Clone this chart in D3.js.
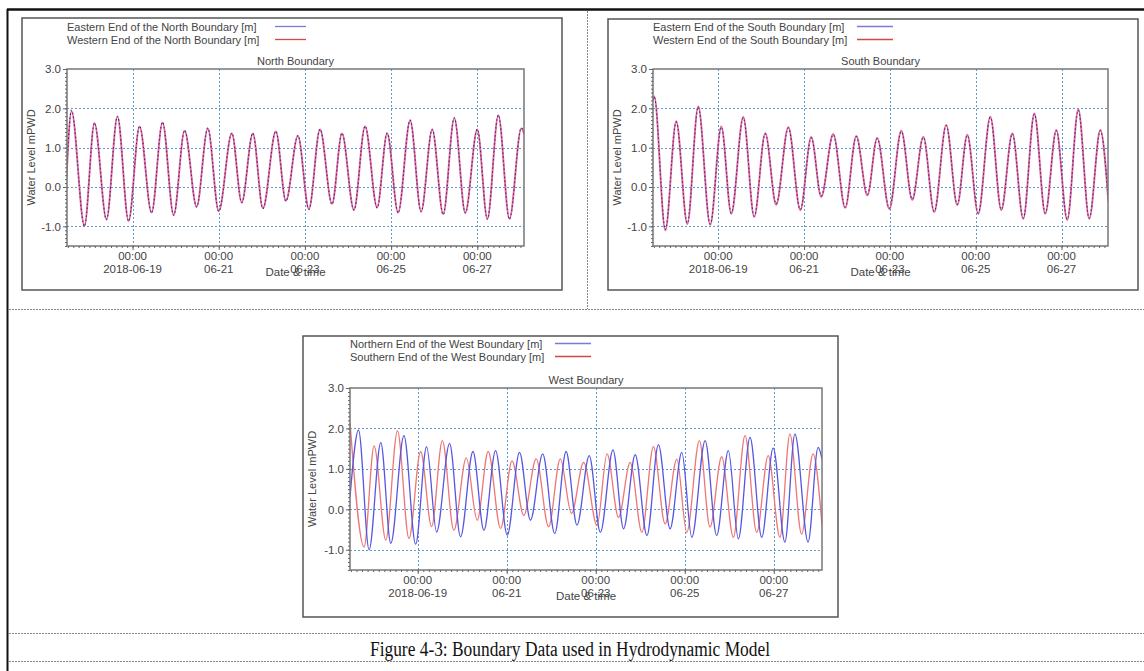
<!DOCTYPE html>
<html>
<head>
<meta charset="utf-8">
<script src="https://cdn.jsdelivr.net/npm/d3@7"></script>
<style>
  body { margin: 0; background: #fff; }
  text { font-family: "Liberation Sans", Arial, sans-serif; fill: #444; }
</style>
</head>
<body>
<script>
// hours after 2018-06-17 00:00 at each high / low water
const northHours = [11.2, 14.0, 21.2, 26.8, 33.5, 39.6, 45.8, 51.9, 58.6, 64.7, 70.9, 77.0, 83.7, 89.9, 96.0,
    103.3, 108.8, 115.0, 120.6, 127.8, 133.4, 140.1, 146.2, 152.4, 159.1, 164.6, 171.3, 177.5, 184.2, 189.8,
    195.9, 202.6, 208.7, 214.9, 221.0, 227.2, 233.3, 240.0, 245.6, 251.7, 257.9, 264.5, 266.2];
const northEast = [0.2, 1.95, -1.0, 1.63, -0.83, 1.8, -0.87, 1.55, -0.66, 1.65, -0.72, 1.44, -0.51, 1.5, -0.62,
    1.37, -0.4, 1.37, -0.55, 1.42, -0.36, 1.31, -0.57, 1.47, -0.44, 1.37, -0.59, 1.55, -0.53, 1.37,
    -0.66, 1.7, -0.63, 1.47, -0.7, 1.76, -0.66, 1.47, -0.82, 1.83, -0.82, 1.5, 1.35];
const northWest = [0.2, 1.93, -0.98, 1.62, -0.82, 1.79, -0.86, 1.54, -0.65, 1.64, -0.71, 1.43, -0.5, 1.49, -0.61,
    1.36, -0.39, 1.36, -0.54, 1.41, -0.35, 1.3, -0.56, 1.46, -0.43, 1.36, -0.58, 1.54, -0.52, 1.36,
    -0.65, 1.69, -0.62, 1.46, -0.69, 1.75, -0.65, 1.46, -0.81, 1.82, -0.81, 1.49, 1.34];

const southHours = [11.5, 12.2, 18.4, 24.5, 30.7, 36.8, 43.5, 49.7, 55.3, 62.0, 68.1, 74.3, 80.4, 87.2, 93.9,
    100.0, 105.6, 112.3, 119.0, 125.2, 131.4, 136.9, 143.7, 150.4, 156.5, 162.7, 168.8, 175.5, 181.7, 187.3,
    193.4, 200.2, 206.3, 212.5, 218.6, 224.8, 230.9, 237.1, 243.2, 249.4, 255.5, 261.7, 266.2];
const southEast = [2.2, 2.28, -1.08, 1.65, -0.92, 2.03, -0.94, 1.52, -0.66, 1.76, -0.74, 1.35, -0.43, 1.5, -0.57,
    1.25, -0.23, 1.33, -0.51, 1.28, -0.19, 1.23, -0.54, 1.41, -0.31, 1.26, -0.62, 1.56, -0.44, 1.31,
    -0.66, 1.77, -0.57, 1.35, -0.79, 1.85, -0.66, 1.43, -0.82, 1.95, -0.79, 1.43, -0.36];
const southWest = [2.22, 2.3, -1.1, 1.67, -0.94, 2.05, -0.96, 1.54, -0.68, 1.78, -0.76, 1.37, -0.45, 1.52, -0.59,
    1.27, -0.25, 1.35, -0.53, 1.3, -0.21, 1.25, -0.56, 1.43, -0.33, 1.28, -0.64, 1.58, -0.46, 1.33,
    -0.68, 1.79, -0.59, 1.37, -0.81, 1.87, -0.68, 1.45, -0.84, 1.97, -0.81, 1.45, -0.38];

const westNorthHours = [11.5, 16.1, 21.8, 28.1, 33.5, 40.6, 46.9, 52.8, 58.2, 65.2, 71.1, 77.8, 83.7, 90.0, 96.3,
    102.9, 108.8, 115.4, 121.9, 128.0, 133.9, 140.5, 146.5, 153.3, 159.0, 165.3, 171.6, 177.8, 184.1, 190.4,
    195.8, 203.0, 209.2, 215.5, 220.9, 227.2, 233.5, 239.7, 246.0, 251.4, 258.5, 263.9, 266.0];
const westNorth = [0.3, 1.96, -1.0, 1.65, -0.84, 1.82, -0.86, 1.55, -0.56, 1.63, -0.68, 1.43, -0.52, 1.45, -0.64,
    1.41, -0.27, 1.37, -0.6, 1.43, -0.39, 1.33, -0.57, 1.47, -0.48, 1.35, -0.65, 1.6, -0.48, 1.41,
    -0.69, 1.7, -0.65, 1.45, -0.73, 1.78, -0.69, 1.52, -0.81, 1.86, -0.81, 1.53, 1.24];
const westSouthHours = [11.5, 19.1, 24.5, 30.8, 37.1, 43.3, 49.6, 55.5, 61.3, 67.5, 74.2, 80.1, 86.0, 92.7, 98.9,
    105.2, 111.9, 118.6, 124.9, 130.9, 137.5, 144.7, 150.1, 156.3, 162.6, 168.9, 175.1, 181.4, 187.7, 193.1,
    199.9, 205.6, 211.9, 218.2, 224.5, 230.8, 237.0, 243.3, 248.7, 255.0, 261.2, 266.0];
const westSouth = [2.15, -0.93, 1.57, -0.76, 1.94, -0.72, 1.43, -0.43, 1.7, -0.52, 1.27, -0.27, 1.43, -0.47, 1.2,
    -0.15, 1.25, -0.43, 1.25, -0.1, 1.16, -0.4, 1.37, -0.2, 1.16, -0.57, 1.55, -0.36, 1.24, -0.57,
    1.7, -0.44, 1.3, -0.69, 1.82, -0.57, 1.33, -0.69, 1.86, -0.61, 1.37, -0.4];

const yTicks = [-1, 0, 1, 2, 3];
const xTickDates = ['2018-06-19', '2018-06-21', '2018-06-23', '2018-06-25', '2018-06-27'];
const xTickLabels = ['2018-06-19', '06-21', '06-23', '06-25', '06-27'];
const timeStart = 11.5;
const timeEnd = 266;

const width = 1144;
const height = 671;
const parseDay = d3.timeParse('%Y-%m-%d');
const origin = new Date(2018, 5, 17, 0, 0);
const toDate = h => new Date(origin.getTime() + h * 3600 * 1000);

let svg = d3.select('body')
    .append('svg')
    .attr('width', width)
    .attr('height', height);

// page frame
svg.append('line').attr('x1', 7).attr('x2', width).attr('y1', 9.5).attr('y2', 9.5)
    .attr('stroke', '#111').attr('stroke-width', 2.5);
svg.append('line').attr('x1', 7.5).attr('x2', 7.5).attr('y1', 9).attr('y2', height)
    .attr('stroke', '#111').attr('stroke-width', 2);
svg.append('line').attr('x1', 587.5).attr('x2', 587.5).attr('y1', 11).attr('y2', 309)
    .attr('stroke', '#888').attr('stroke-dasharray', '2,1');
[309.5, 633.5, 661.5].forEach(y => {
    svg.append('line').attr('x1', 9).attr('x2', width).attr('y1', y).attr('y2', y)
        .attr('stroke', '#888').attr('stroke-dasharray', '2,1');
});
svg.append('text')
    .attr('x', 570).attr('y', 656)
    .attr('text-anchor', 'middle')
    .attr('textLength', 400).attr('lengthAdjust', 'spacingAndGlyphs')
    .style('font-family', '"Liberation Serif", "Times New Roman", serif')
    .style('font-size', '20px')
    .style('fill', '#111')
    .text('Figure 4-3: Boundary Data used in Hydrodynamic Model');

function makeSeries(hours, values) {
    return hours.map((h, i) => ({ date: toDate(h), value: values[i] }));
}

function drawPanel(cfg) {
    let box = cfg.box;
    let p = cfg.plot;
    let g = svg.append('g').classed('panel', true);

    g.append('rect')
        .attr('x', box.x).attr('y', box.y).attr('width', box.w).attr('height', box.h)
        .attr('fill', '#fff').attr('stroke', '#555').attr('stroke-width', 1.5);

    // legend
    cfg.series.forEach((s, i) => {
        let ly = p.legendY + i * 13;
        g.append('text')
            .attr('x', p.l).attr('y', ly + 4)
            .style('font-size', '11px')
            .text(s.label);
        g.append('line')
            .attr('x1', p.legendX1).attr('x2', p.legendX2)
            .attr('y1', ly).attr('y2', ly)
            .style('stroke', s.legendColor).style('stroke-width', 1.3);
    });

    let xScale = d3.scaleTime()
        .domain([toDate(timeStart), toDate(timeEnd)])
        .range([p.l, p.r]);
    let yScale = d3.scaleLinear()
        .domain([-1.5, 3.0])
        .range([p.b, p.t]);

    let majorDates = xTickDates.map(parseDay);

    // grid
    let grid = g.append('g').attr('stroke', '#5b9bd0').attr('stroke-dasharray', '2,2').attr('stroke-width', 1);
    yTicks.filter(v => v < 3).forEach(v => {
        grid.append('line').attr('x1', p.l).attr('x2', p.r)
            .attr('y1', Math.round(yScale(v)) + 0.5).attr('y2', Math.round(yScale(v)) + 0.5);
    });
    majorDates.forEach(d => {
        grid.append('line').attr('y1', p.t).attr('y2', p.b)
            .attr('x1', Math.round(xScale(d)) + 0.5).attr('x2', Math.round(xScale(d)) + 0.5);
    });

    // series
    let clipId = 'clip-' + cfg.id;
    g.append('clipPath').attr('id', clipId)
        .append('rect').attr('x', p.l).attr('y', p.t).attr('width', p.r - p.l).attr('height', p.b - p.t);
    let line = d3.line()
        .x(d => xScale(d.date))
        .y(d => yScale(d.value))
        .curve(d3.curveMonotoneX);
    cfg.series.slice().reverse().forEach(s => {
        g.append('path')
            .datum(makeSeries(s.hours, s.values))
            .attr('clip-path', `url(#${clipId})`)
            .attr('fill', 'none')
            .attr('stroke', s.color)
            .attr('stroke-width', s.width)
            .attr('stroke-dasharray', s.dash || null)
            .attr('d', line);
    });

    // frame
    g.append('rect')
        .attr('x', p.l).attr('y', p.t).attr('width', p.r - p.l).attr('height', p.b - p.t)
        .attr('fill', 'none').attr('stroke', '#777').attr('stroke-width', 1.5);

    // minor ticks
    let minorX = d3.timeHour.every(3).range(toDate(timeStart), toDate(timeEnd));
    g.append('g')
        .attr('transform', `translate(0, ${p.b})`)
        .call(d3.axisBottom(xScale).tickValues(minorX).tickSize(2).tickFormat(''))
        .call(a => a.select('.domain').remove())
        .selectAll('line').attr('stroke', '#666');
    g.append('g')
        .attr('transform', `translate(${p.l}, 0)`)
        .call(d3.axisLeft(yScale).tickValues(d3.range(-15, 31).map(v => v / 10)).tickSize(2).tickFormat(''))
        .call(a => a.select('.domain').remove())
        .selectAll('line').attr('stroke', '#666');

    // x axis
    let xAxis = d3.axisBottom(xScale)
        .tickValues(majorDates)
        .tickSize(4)
        .tickFormat('');
    let xAxisGroup = g.append('g')
        .classed('x axis', true)
        .attr('transform', `translate(0, ${p.b})`)
        .call(xAxis);
    xAxisGroup.select('.domain').remove();
    xAxisGroup.selectAll('line').attr('stroke', '#666');
    majorDates.forEach((d, i) => {
        let t = g.append('text')
            .attr('text-anchor', 'middle')
            .style('font-size', '11.5px');
        t.append('tspan').attr('x', xScale(d)).attr('y', p.b + 14).text('00:00');
        t.append('tspan').attr('x', xScale(d)).attr('y', p.b + 27).text(xTickLabels[i]);
    });
    g.append('text')
        .attr('x', (p.l + p.r) / 2).attr('y', p.b + 30)
        .attr('text-anchor', 'middle')
        .style('font-size', '11.5px')
        .text('Date & time');

    // y axis
    let yAxis = d3.axisLeft(yScale)
        .tickValues(yTicks)
        .tickSize(4)
        .tickPadding(2)
        .tickFormat(v => v.toFixed(1));
    let yAxisGroup = g.append('g')
        .classed('y axis', true)
        .attr('transform', `translate(${p.l}, 0)`)
        .call(yAxis);
    yAxisGroup.select('.domain').remove();
    yAxisGroup.selectAll('line').attr('stroke', '#666');
    yAxisGroup.selectAll('text')
        .style('font-size', '11.5px')
        .style('font-family', '"Liberation Sans", Arial, sans-serif')
        .attr('fill', '#444');

    g.append('text')
        .attr('transform', `translate(${box.x + 13}, ${(p.t + p.b) / 2}) rotate(-90)`)
        .attr('text-anchor', 'middle')
        .style('font-size', '11px')
        .text('Water Level mPWD');

    g.append('text')
        .attr('x', (p.l + p.r) / 2).attr('y', p.t - 4)
        .attr('text-anchor', 'middle')
        .style('font-size', '11px')
        .text(cfg.title);
}

drawPanel({
    id: 'north',
    title: 'North Boundary',
    box: { x: 22, y: 18, w: 540, h: 272 },
    plot: { l: 67, t: 69, r: 524, b: 246, legendY: 26.5, legendX1: 275, legendX2: 306 },
    series: [
        { label: 'Eastern End of the North Boundary  [m]', hours: northHours, values: northEast,
          color: '#3a2c80', legendColor: '#7a7ad8', width: 1.1, dash: '1.5,2.5' },
        { label: 'Western End of the North Boundary [m]', hours: northHours, values: northWest,
          color: '#e2669a', legendColor: '#d04848', width: 1.9 }
    ]
});

drawPanel({
    id: 'south',
    title: 'South Boundary',
    box: { x: 608, y: 19, w: 530, h: 271 },
    plot: { l: 653, t: 69, r: 1108, b: 246, legendY: 26.5, legendX1: 857, legendX2: 893 },
    series: [
        { label: 'Eastern End of the South Boundary  [m]', hours: southHours, values: southEast,
          color: '#3a2c80', legendColor: '#7a7ad8', width: 1.1, dash: '1.5,2.5' },
        { label: 'Western End of the South Boundary [m]', hours: southHours, values: southWest,
          color: '#e2669a', legendColor: '#d04848', width: 1.9 }
    ]
});

drawPanel({
    id: 'west',
    title: 'West Boundary',
    box: { x: 303, y: 336, w: 535, h: 281 },
    plot: { l: 350, t: 388, r: 822, b: 570, legendY: 343.5, legendX1: 555, legendX2: 591 },
    series: [
        { label: 'Northern End of the West Boundary  [m]', hours: westNorthHours, values: westNorth,
          color: '#5656e0', legendColor: '#7a7ad8', width: 1.3 },
        { label: 'Southern End of the West Boundary [m]', hours: westSouthHours, values: westSouth,
          color: '#ee7676', legendColor: '#d04848', width: 1.3 }
    ]
});
</script>
</body>
</html>
